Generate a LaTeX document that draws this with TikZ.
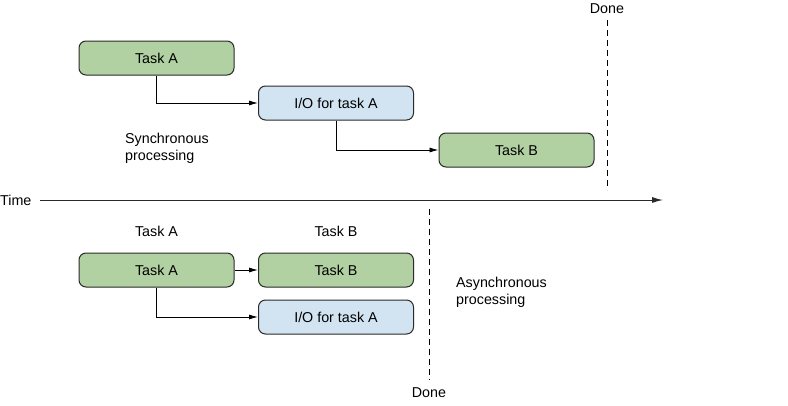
\documentclass[tikz,border=0pt]{standalone}
\usepackage{fontspec}
\setmainfont{Liberation Sans}
\usetikzlibrary{arrows.meta}
\definecolor{taskgreen}{HTML}{B1D1A2}
\definecolor{ioblue}{HTML}{D2E4F1}
\definecolor{edge}{HTML}{2A2A2A}
\begin{document}
\begin{tikzpicture}[x=1pt,y=-1pt,
  box/.style={draw=edge,line width=1pt,rounded corners=7pt,minimum width=155pt,minimum height=34pt,inner sep=0pt,font=\fontsize{14.3}{17}\selectfont},
  taskbox/.style={box,fill=taskgreen},
  iobox/.style={box,fill=ioblue},
  lbl/.style={font=\fontsize{14.3}{17}\selectfont,inner sep=0pt},
  conn/.style={draw=black,line width=0.8pt,-{Latex[length=9pt,width=5pt]}},
  donel/.style={draw=black,line width=1pt,dash pattern=on 6pt off 4pt}]
\useasboundingbox (0,0) rectangle (788,405);
% synchronous
\node[taskbox] (tA) at (156.5,58) {Task A};
\node[iobox] (ioA) at (336,103) {I/O for task A};
\node[taskbox] (tB) at (516.5,150) {Task B};
\draw[conn] (tA.south) |- (ioA.west);
\draw[conn] (ioA.south) |- (tB.west);
\node[lbl,align=left,anchor=west] (sync) at (125,148) {Synchronous\\processing};
\node[lbl] (done1) at (607,9) {Done};
\coordinate (d1a) at (607,20);
\coordinate (d1b) at (607,190);
\draw[donel] (d1a) -- (d1b);
% time axis
\node[lbl,anchor=west] (time) at (0,200) {Time};
\coordinate (tend) at (663,200);
\draw[draw=edge,line width=1pt,-{Latex[length=11pt,width=6pt]}] (40,200) -- (tend);
% asynchronous
\node[lbl] (hA) at (156.5,231) {Task A};
\node[lbl] (hB) at (336,231) {Task B};
\node[taskbox] (aA) at (156.5,270) {Task A};
\node[taskbox] (aB) at (336,270) {Task B};
\node[iobox] (aIO) at (336,317) {I/O for task A};
\draw[conn] (aA.east) -- (aB.west);
\draw[conn] (aA.south) |- (aIO.west);
\node[lbl,align=left,anchor=west] (async) at (456,292) {Asynchronous\\processing};
\coordinate (d2a) at (429,209);
\coordinate (d2b) at (429,380);
\draw[donel] (d2a) -- (d2b);
\node[lbl] (done2) at (429,393) {Done};
\end{tikzpicture}
\end{document}
